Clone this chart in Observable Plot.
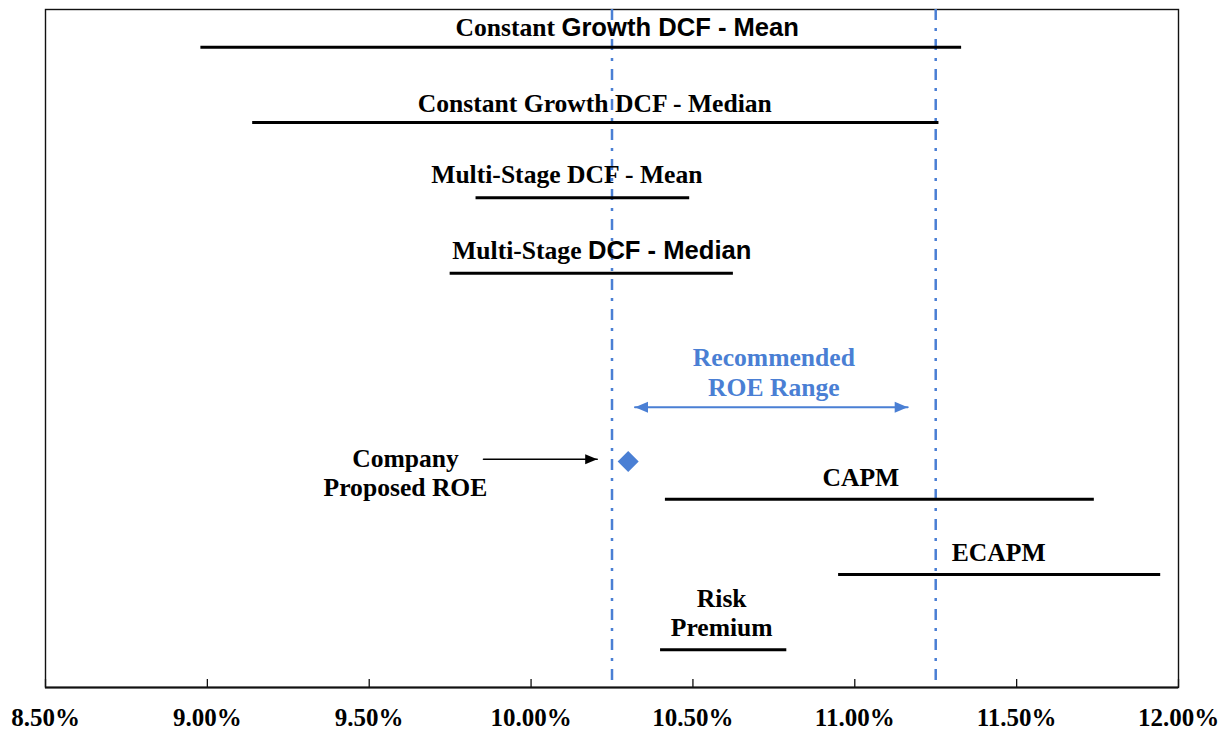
<!DOCTYPE html>
<html>
<head>
<meta charset="utf-8">
<script src="https://cdn.jsdelivr.net/npm/d3@7"></script>
<script src="https://cdn.jsdelivr.net/npm/@observablehq/plot@0.6"></script>
<style>
  body { margin: 0; background: #fff; }
  #chart { width: 1232px; height: 730px; }
</style>
</head>
<body>
<div id="chart"></div>
<script>
// ROE ranges (percent) produced by each estimation method
const methods = [
  "Constant Growth DCF - Mean",
  "Constant Growth DCF - Median",
  "Multi-Stage DCF - Mean",
  "Multi-Stage DCF - Median",
  "CAPM",
  "ECAPM",
  "Risk Premium"
];
const lows  = [8.98, 9.14, 9.83, 9.75, 10.415, 10.95, 10.40];
const highs = [11.33, 11.26, 10.49, 10.625, 11.74, 11.945, 10.79];

// Order of the rows from top to bottom; the two empty rows hold the annotations
const slots = [
  "Constant Growth DCF - Mean",
  "Constant Growth DCF - Median",
  "Multi-Stage DCF - Mean",
  "Multi-Stage DCF - Median",
  null,
  null,
  "CAPM",
  "ECAPM",
  "Risk Premium"
];

const recommendedRange = [10.25, 11.25];
const proposedROE = 10.30;
const xTicks = [8.5, 9, 9.5, 10, 10.5, 11, 11.5, 12];

// ---- styling ----
const SERIF = "Liberation Serif, 'Times New Roman', serif";
const SANS = "Liberation Sans, Arial, sans-serif";
const BLUE = "#4a7fd4";
const FONT_SIZE = 25;
const LABEL_SIZE = 25.6;

const data = methods.map((m, i) => ({
  method: m,
  low: lows[i],
  high: highs[i],
  row: slots.indexOf(m) + 1
}));

// Some labels mix a serif and a sans-serif run
const labelParts = {
  "Constant Growth DCF - Mean": [["Constant ", SERIF], ["Growth DCF - Mean", SANS]],
  "Multi-Stage DCF - Median": [["Multi-Stage ", SERIF], ["DCF - Median", SANS]],
  "Risk Premium": [["Risk\nPremium", SERIF]]
};
// horizontal nudge (px) of each label from the middle of its range
const labelShift = {
  "Constant Growth DCF - Mean": 46,
  "Constant Growth DCF - Median": -1,
  "Multi-Stage DCF - Mean": -16,
  "Multi-Stage DCF - Median": 10,
  "CAPM": -19,
  "ECAPM": -1,
  "Risk Premium": -2
};
// baseline offset (px) above the range line
const labelRaise = {
  "Constant Growth DCF - Mean": -11,
  "Constant Growth DCF - Median": -11,
  "Multi-Stage DCF - Mean": -15,
  "Multi-Stage DCF - Median": -14,
  "CAPM": -13,
  "ECAPM": -14,
  "Risk Premium": -14
};

const ctx = document.createElement("canvas").getContext("2d");
function textWidth(s, family) {
  ctx.font = `bold ${LABEL_SIZE}px ${family}`;
  return ctx.measureText(s).width;
}

const labelMarks = [];
for (const d of data) {
  const parts = labelParts[d.method] || [[d.method, SERIF]];
  const shift = labelShift[d.method] || 0;
  const dy = labelRaise[d.method] ?? -11;
  const common = {
    x: (d.low + d.high) / 2,
    y: d.row,
    lineAnchor: "bottom",
    lineHeight: 1.14,
    fontSize: LABEL_SIZE,
    fontWeight: "bold",
    fill: "#000",
    dy
  };
  if (parts.length === 1) {
    labelMarks.push(Plot.text([d], {...common, text: () => parts[0][0], fontFamily: parts[0][1], textAnchor: "middle", dx: shift}));
  } else {
    const widths = parts.map(([s, f]) => textWidth(s, f));
    const total = widths.reduce((a, b) => a + b, 0);
    let offset = shift - total / 2;
    parts.forEach(([s, f], k) => {
      labelMarks.push(Plot.text([d], {...common, text: () => s.trim(), fontFamily: f, textAnchor: "start", dx: offset}));
      offset += widths[k];
    });
  }
}

// filled arrowhead whose tip sits on the anchor point, pointing right
const arrowHead = {
  draw(context, size) {
    const l = Math.sqrt(size / Math.PI);
    context.moveTo(0, 0);
    context.lineTo(-l, -0.42 * l);
    context.lineTo(-l, 0.42 * l);
    context.closePath();
  }
};

const arrowRow = 5.78;   // recommended range arrow
const proposedRow = 6.5; // proposed ROE marker
const calloutX = 9.612;  // centre of the "Company Proposed ROE" label
const calloutStart = 9.853;

const chart = Plot.plot({
  width: 1232,
  height: 730,
  marginLeft: 45,
  marginRight: 54,
  marginTop: 9,
  marginBottom: 43,
  style: {fontFamily: SERIF, background: "#fff"},
  x: {domain: [8.5, 12], axis: null},
  y: {domain: [0.5, 9.5], reverse: true, axis: null},
  marks: [
    Plot.frame({stroke: "#111", strokeWidth: 1.4}),
    // recommended ROE range boundaries
    Plot.ruleX(recommendedRange, {stroke: BLUE, strokeWidth: 2.5, strokeDasharray: "11,8,3,8"}),
    // method ranges
    Plot.ruleY(data, {x1: "low", x2: "high", y: "row", stroke: "#000", strokeWidth: 3}),
    ...labelMarks,
    // x axis: baseline, inward ticks, labels
    Plot.ruleY([9.5], {stroke: "#111", strokeWidth: 2.2}),
    Plot.axisX({ticks: xTicks, tickSize: 8, dy: -8, text: null, stroke: "#111", strokeWidth: 1.3}),
    Plot.axisX({
      ticks: xTicks,
      tickSize: 0,
      tickPadding: 21,
      tickFormat: d => d.toFixed(2) + "%",
      fontSize: FONT_SIZE,
      fontWeight: "bold",
      fontFamily: SERIF,
      fill: "#000"
    }),
    // recommended range arrow and caption
    Plot.arrow([0], {
      x1: recommendedRange[0], x2: recommendedRange[1], y1: arrowRow, y2: arrowRow,
      insetStart: 23, insetEnd: 28, headLength: 0, stroke: BLUE, strokeWidth: 2
    }),
    Plot.dot([recommendedRange[0]], {x: d => d, y: arrowRow, dx: 23, symbol: arrowHead, rotate: 180, r: 13, fill: BLUE, stroke: "none"}),
    Plot.dot([recommendedRange[1]], {x: d => d, y: arrowRow, dx: -28, symbol: arrowHead, r: 13, fill: BLUE, stroke: "none"}),
    Plot.text(["Recommended\nROE Range"], {
      x: (recommendedRange[0] + recommendedRange[1]) / 2, y: arrowRow, dy: -36,
      text: d => d, lineAnchor: "middle", lineHeight: 1.2,
      fontSize: LABEL_SIZE, fontWeight: "bold", fontFamily: SERIF, fill: BLUE
    }),
    // company proposed ROE
    Plot.dot([proposedROE], {x: d => d, y: proposedRow, symbol: "square", rotate: 45, r: 8.4, fill: BLUE, stroke: "none"}),
    Plot.arrow([0], {
      x1: calloutStart, x2: proposedROE, y1: proposedRow - 0.03, y2: proposedRow - 0.03,
      insetEnd: 31, headLength: 0, stroke: "#000", strokeWidth: 1.6
    }),
    Plot.dot([proposedROE], {x: d => d, y: proposedRow - 0.03, dx: -31, symbol: arrowHead, r: 12, fill: "#000", stroke: "none"}),
    Plot.text(["Company\nProposed ROE"], {
      x: calloutX, y: proposedRow, dy: 11,
      text: d => d, lineAnchor: "middle", lineHeight: 1.14,
      fontSize: LABEL_SIZE, fontWeight: "bold", fontFamily: SERIF, fill: "#000"
    })
  ]
});

document.getElementById("chart").appendChild(chart);
</script>
</body>
</html>
